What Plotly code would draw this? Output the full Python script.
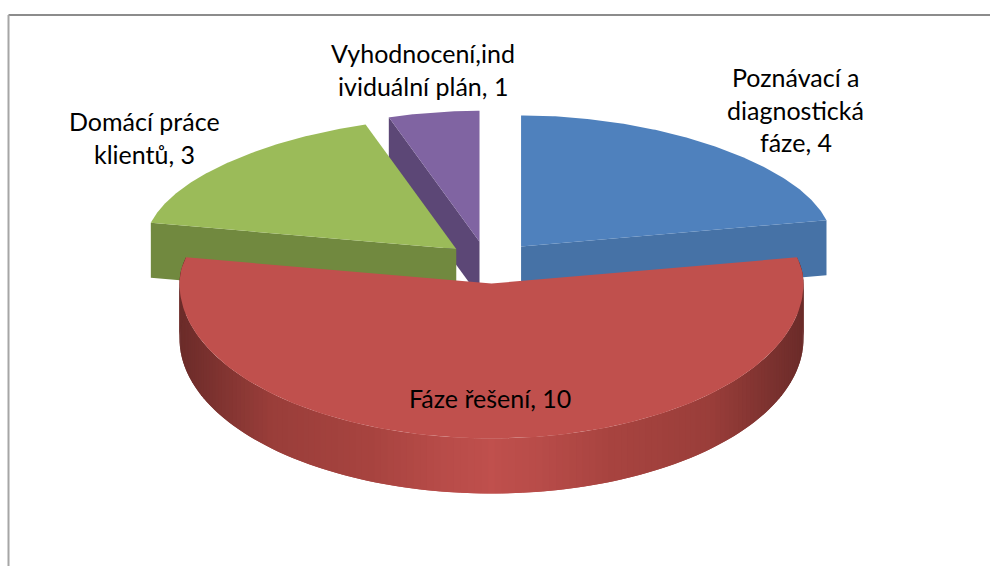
import numpy as np
import plotly.graph_objects as go

# Data
CATEGORIES = ["Poznávací a diagnostická fáze", "Fáze řešení", "Domácí práce klientů", "Vyhodnocení,individuální plán"]
VALUES = [4, 10, 3, 1]
LABEL_LINES = [
    ["Poznávací a", "diagnostická", "fáze, 4"],
    ["Fáze řešení, 10"],
    ["Domácí práce", "klientů, 3"],
    ["Vyhodnocení,ind", "ividuální plán, 1"],
]
LABEL_POS = [(795.5, 77), (490, 398), (144, 121), (423, 53)]
TOP_COLORS = ["#4F81BD", "#C0504D", "#9BBB59", "#8064A2"]
SIDE_COLORS = ["#4672A6", "#A8433F", "#71893F", "#5C4776"]
# Cut face drawn per slice: angle end that faces the viewer
FACE_EDGE = ["end", None, "start", "start"]
DRAW_ORDER = [0, 3, 2, 1]
EXPLODE_X = [46.0, 46.0, 46.0, 69.0]

# Projection settings of the tilted pie
CX, CY = 491.5, 262.5
RX = 312.0
RY_NEAR, RY_FAR_DROP = 155.0, 24.0
FAR_NARROW = 0.2
EY = 21.0
DEPTH = 55.0

RIM_GRAD_X = [0, 50, 120, 220, 311]
RIM_GRAD_C = [(192, 80, 77), (184, 76, 73), (168, 68, 64), (154, 62, 58), (108, 44, 42)]


def project(theta_deg):
    t = np.radians(theta_deg)
    X, Y = np.sin(t), np.cos(t)
    far = np.clip(Y, 0, None)
    return RX * X / (1 + FAR_NARROW * far ** 2), -(RY_NEAR - RY_FAR_DROP * far) * Y


def wall_color(dx):
    d = abs(dx)
    c = [np.interp(d, RIM_GRAD_X, [p[i] for p in RIM_GRAD_C]) for i in range(3)]
    return "rgb(%d,%d,%d)" % tuple(c)


fig = go.Figure()


def poly(xs, ys, color):
    fig.add_trace(go.Scatter(
        x=list(xs) + [xs[0]], y=list(ys) + [ys[0]], mode="lines", fill="toself",
        fillcolor=color, line=dict(color=color, width=0),
        hoverinfo="skip", showlegend=False))


# Slice angle spans from the values
total = sum(VALUES)
edges = np.cumsum([0] + VALUES) / total * 360.0

for i in DRAW_ORDER:
    a0, a1 = edges[i], edges[i + 1]
    mid = np.radians((a0 + a1) / 2)
    ax, ay = CX + EXPLODE_X[i] * np.sin(mid), CY - EY * np.cos(mid)
    th = np.linspace(a0, a1, 160)
    rx, ry = project(th)
    rx, ry = ax + rx, ay + ry

    edge = FACE_EDGE[i]
    if edge is not None:
        ex, ey = (rx[-1], ry[-1]) if edge == "end" else (rx[0], ry[0])
        poly([ax, ex, ex, ax], [ay, ey, ey + DEPTH, ay + DEPTH], SIDE_COLORS[i])
    else:
        # curved outer wall with a shading by horizontal position;
        # each strip overlaps the next so no seams show
        for j in range(len(th) - 1):
            k = min(j + 2, len(th) - 1)
            xs = [rx[j], rx[k], rx[k], rx[j]]
            ys = [ry[j], ry[k], ry[k] + DEPTH, ry[j] + DEPTH]
            poly(xs, ys, wall_color((rx[j] + rx[j + 1]) / 2 - ax))

    poly([ax] + list(rx), [ay] + list(ry), TOP_COLORS[i])

# Frame of the chart area
fig.add_trace(go.Scatter(x=[990, 8.5], y=[15, 15], mode="lines",
                         line=dict(color="#8C8C8C", width=2), hoverinfo="skip", showlegend=False))
fig.add_trace(go.Scatter(x=[8.5, 8.5], y=[15, 566], mode="lines",
                         line=dict(color="#A6A6A6", width=2), hoverinfo="skip", showlegend=False))

annotations = []
for lines, (lx, ly) in zip(LABEL_LINES, LABEL_POS):
    for n, txt in enumerate(lines):
        annotations.append(dict(x=lx, y=ly + n * 32.5, text=txt, showarrow=False,
                                xanchor="center", yanchor="middle",
                                font=dict(family="Lato, Carlito, sans-serif", size=25, color="#000000")))

fig.update_layout(
    width=990, height=566, margin=dict(l=0, r=0, t=0, b=0),
    paper_bgcolor="#FFFFFF", plot_bgcolor="#FFFFFF", showlegend=False,
    xaxis=dict(range=[0, 990], visible=False, fixedrange=True),
    yaxis=dict(range=[566, 0], visible=False, fixedrange=True),
    annotations=annotations,
)
fig.write_html("out.html", config=dict(displayModeBar=False),
               post_script="document.body.style.margin='0';document.body.style.overflow='hidden';")
